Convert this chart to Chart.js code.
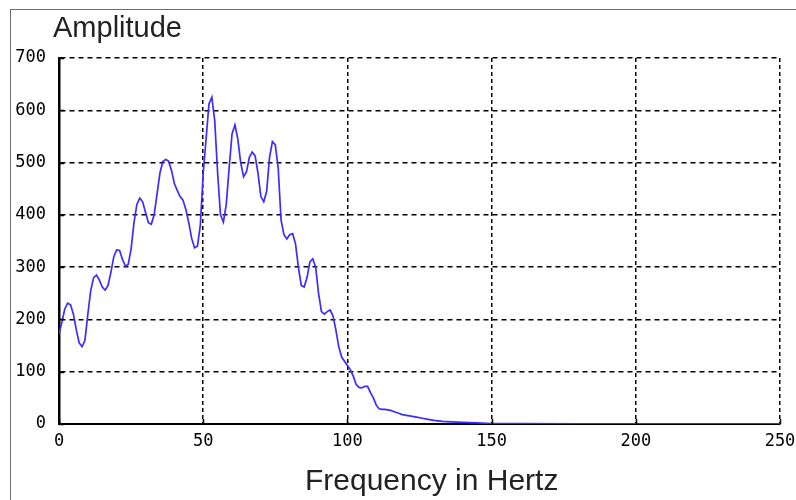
<!DOCTYPE html>
<html>
<head>
<meta charset="utf-8">
<style>
  html, body { margin: 0; padding: 0; background: #fff; }
  #wrap { width: 796px; height: 500px; position: relative; }
</style>
<script src="https://cdn.jsdelivr.net/npm/chart.js@4.4.1/dist/chart.umd.min.js"></script>
</head>
<body>
<div id="wrap"><canvas id="c" width="796" height="500"></canvas></div>
<script>
// ---- data ----
const frequencies = [
  0,1,2,3,4,5,6,7,8,9,10,11,12,13,14,15,16,17,18,19,
  20,21,22,23,24,25,26,27,28,29,30,31,32,33,34,35,36,37,38,39,
  40,41,42,43,44,45,46,47,48,49,50,51,52,53,54,55,56,57,58,59,
  60,61,62,63,64,65,66,67,68,69,70,71,72,73,74,75,76,77,78,79,
  80,81,82,83,84,85,86,87,88,89,90,91,92,93,94,95,96,97,98,99,
  100,101,102,103,104,105,106,107,108,109,110,111,112,113,114,115,116,117,118,119,
  120,122,124,126,128,130,133,136,140,145,150,160,180,200,220,250
];
const amplitudes = [
  172,195,220,231,228,210,180,155,148,160,210,255,280,285,275,262,256,265,290,320,
  333,332,315,302,305,335,385,420,432,425,405,385,382,400,440,480,502,506,503,485,
  460,447,435,428,410,385,355,337,340,380,480,545,612,625,580,480,400,386,420,490,
  555,572,545,500,473,482,510,520,513,480,435,425,445,510,540,534,490,390,362,354,
  362,364,345,300,265,262,280,310,316,300,250,215,210,215,218,207,180,148,128,120,
  112,104,92,76,70,69,72,72,60,50,36,29,28,28,27,26,24,22,20,18,
  17,15,13,11,9,7,5,4,3,2,1,1,0.5,0.5,0.5,0.5
];
const yTitle = "Amplitude";
const xTitle = "Frequency in Hertz";
const xTicks = { min: 0, max: 250, step: 50 };
const yTicks = { min: 0, max: 700, step: 100 };

const points = frequencies.map((f, i) => ({ x: f, y: amplitudes[i] }));

const decor = {
  id: 'decor',
  beforeDraw(chart) {
    const ctx = chart.ctx;
    ctx.save();
    ctx.fillStyle = '#fff';
    ctx.fillRect(0, 0, chart.width, chart.height);
    ctx.strokeStyle = '#6e6e6e';
    ctx.lineWidth = 1;
    ctx.strokeRect(10.5, 9.5, chart.width + 20, chart.height + 20);
    ctx.restore();
  },
  afterDraw(chart) {
    const ctx = chart.ctx;
    const a = chart.chartArea;
    ctx.save();
    ctx.strokeStyle = '#000';
    ctx.lineWidth = 1.5;
    const ys = chart.scales.y, xs = chart.scales.x;
    ys.ticks.forEach(t => {
      const py = Math.round(ys.getPixelForValue(t.value)) + 0.5;
      ctx.beginPath(); ctx.moveTo(a.left, py); ctx.lineTo(a.left + 5, py); ctx.stroke();
    });
    xs.ticks.forEach(t => {
      const px = Math.round(xs.getPixelForValue(t.value)) + 0.5;
      ctx.beginPath(); ctx.moveTo(px, a.bottom); ctx.lineTo(px, a.bottom - 5); ctx.stroke();
    });
    ctx.fillStyle = '#222';
    ctx.textBaseline = 'alphabetic';
    ctx.textAlign = 'left';
    ctx.font = '29px "Liberation Sans", Arial, sans-serif';
    ctx.fillText(yTitle, 53, 37);
    ctx.font = '30px "Liberation Sans", Arial, sans-serif';
    ctx.fillText(xTitle, 305, 490);
    ctx.restore();
  }
};

new Chart(document.getElementById('c'), {
  type: 'line',
  data: {
    datasets: [{
      data: points,
      borderColor: '#3c2cff',
      borderWidth: 1.7,
      pointRadius: 0,
      tension: 0,
      fill: false
    }]
  },
  options: {
    responsive: false,
    animation: false,
    layout: { padding: { left: 0, right: 16, top: 58, bottom: 0 } },
    plugins: { legend: { display: false }, tooltip: { enabled: false }, title: { display: false } },
    scales: {
      x: {
        type: 'linear',
        min: xTicks.min, max: xTicks.max,
        afterFit(s) { s.height = 76; s.paddingRight = 0; s.paddingLeft = 0; },
        ticks: {
          stepSize: xTicks.step,
          color: '#000',
          padding: 7,
          maxRotation: 0,
          font: { family: '"DejaVu Sans Mono", monospace', size: 17 }
        },
        grid: {
          color: '#000',
          lineWidth: 1.5,
          drawTicks: false
        },
        border: { display: true, color: '#000', width: 2, dash: [4, 3] }
      },
      y: {
        min: yTicks.min, max: yTicks.max,
        afterFit(s) { s.width = 59; s.paddingTop = 0; s.paddingBottom = 0; },
        ticks: {
          stepSize: yTicks.step,
          color: '#000',
          padding: 13,
          font: { family: '"DejaVu Sans Mono", monospace', size: 17 }
        },
        grid: {
          color: '#000',
          lineWidth: 1.5,
          drawTicks: false
        },
        border: { display: true, color: '#000', width: 2.5, dash: [5, 4] }
      }
    }
  },
  plugins: [decor]
});
</script>
</body>
</html>
